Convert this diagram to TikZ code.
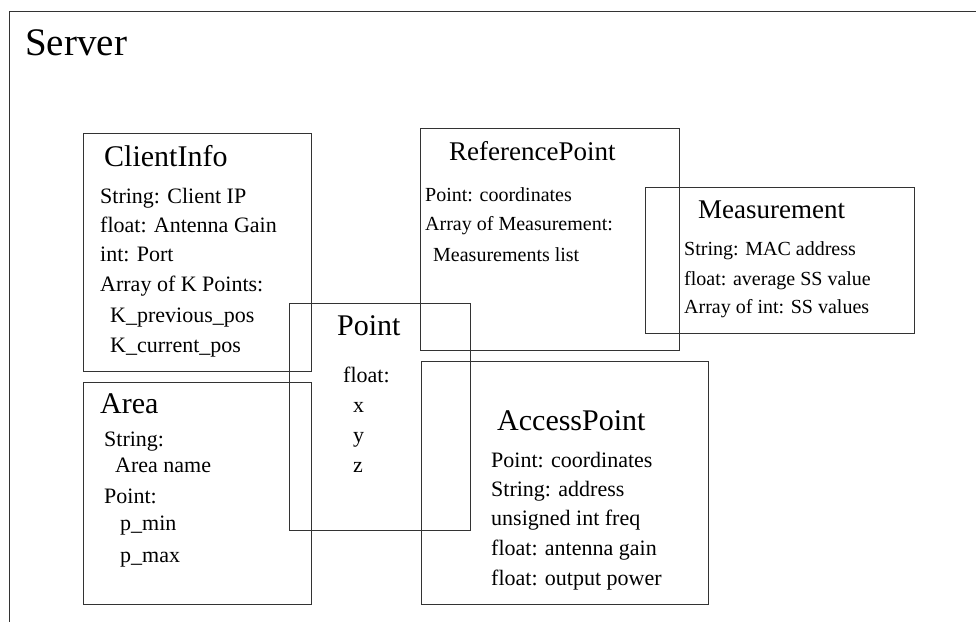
\documentclass[tikz,border=0pt]{standalone}
\usepackage{fontspec}
\setmainfont{Liberation Serif}
\tikzset{
  box/.style={draw=black!80, line width=0.9pt, anchor=north west, inner sep=0pt},
  bigtitle/.style={anchor=base west, inner sep=0pt, font=\fontsize{39}{44}\selectfont},
  title/.style={anchor=base west, inner sep=0pt, font=\fontsize{30}{36}\selectfont},
  smalltitle/.style={title, font=\fontsize{27}{32}\selectfont},
  field/.style={anchor=base west, inner sep=0pt, font=\fontsize{22}{26}\selectfont},
  smallfield/.style={field, font=\fontsize{20}{24}\selectfont},
}
\begin{document}
\begin{tikzpicture}[x=1pt, y=-1pt]
  \useasboundingbox (0,0) rectangle (976,621);
  \clip (0,0) rectangle (976,621);
  % outer frame, runs off the page on the right and at the bottom
  \node[box, minimum width=1100, minimum height=700] (server) at (9,11) {};
  \node[bigtitle] (servername) at (25,55) {Server};
  % class boxes
  \node[box, minimum width=228, minimum height=238] (clientinfo) at (83,133) {};
  \node[box, minimum width=228, minimum height=222] (area) at (83,382) {};
  \node[box, minimum width=181, minimum height=227] (point) at (289,303) {};
  \node[box, minimum width=259, minimum height=222] (refpoint) at (420,128) {};
  \node[box, minimum width=269, minimum height=146] (measurement) at (645,187) {};
  \node[box, minimum width=287, minimum height=243] (accesspoint) at (421,361) {};
  % ClientInfo
  \path
    (104,166) node[title] (ci0) {ClientInfo}
    (100,203) node[field] (ci1) {String: Client IP}
    (100,232) node[field] (ci2) {float: Antenna Gain}
    (100,261) node[field] (ci3) {int: Port}
    (100,291) node[field] (ci4) {Array of K Points:}
    (110,322) node[field] (ci5) {K\_previous\_pos}
    (110,352) node[field] (ci6) {K\_current\_pos};
  % Area
  \path
    (100,413) node[title] (ar0) {Area}
    (104,446) node[field] (ar1) {String:}
    (115,472) node[field] (ar2) {Area name}
    (104,503) node[field] (ar3) {Point:}
    (120,530) node[field] (ar4) {p\_min}
    (120,562) node[field] (ar5) {p\_max};
  % Point
  \path
    (337,335) node[title] (pt0) {Point}
    (343,382) node[field] (pt1) {float:}
    (353,412) node[field] (pt2) {x}
    (353,442) node[field] (pt3) {y}
    (353,472) node[field] (pt4) {z};
  % ReferencePoint
  \path
    (449,160) node[smalltitle] (rp0) {ReferencePoint}
    (425,201) node[smallfield] (rp1) {Point: coordinates}
    (425,230) node[smallfield] (rp2) {Array of Measurement:}
    (433,261) node[smallfield] (rp3) {Measurements list};
  % Measurement
  \path
    (698,218) node[smalltitle] (ms0) {Measurement}
    (684,255) node[smallfield] (ms1) {String: MAC address}
    (684,285) node[smallfield] (ms2) {float: average SS value}
    (684,313) node[smallfield] (ms3) {Array of int: SS values};
  % AccessPoint
  \path
    (497,430) node[title] (ap0) {AccessPoint}
    (491,467) node[field] (ap1) {Point: coordinates}
    (491,496) node[field] (ap2) {String: address}
    (491,525) node[field] (ap3) {unsigned int freq}
    (491,555) node[field] (ap4) {float: antenna gain}
    (491,585) node[field] (ap5) {float: output power};
\end{tikzpicture}
\end{document}
